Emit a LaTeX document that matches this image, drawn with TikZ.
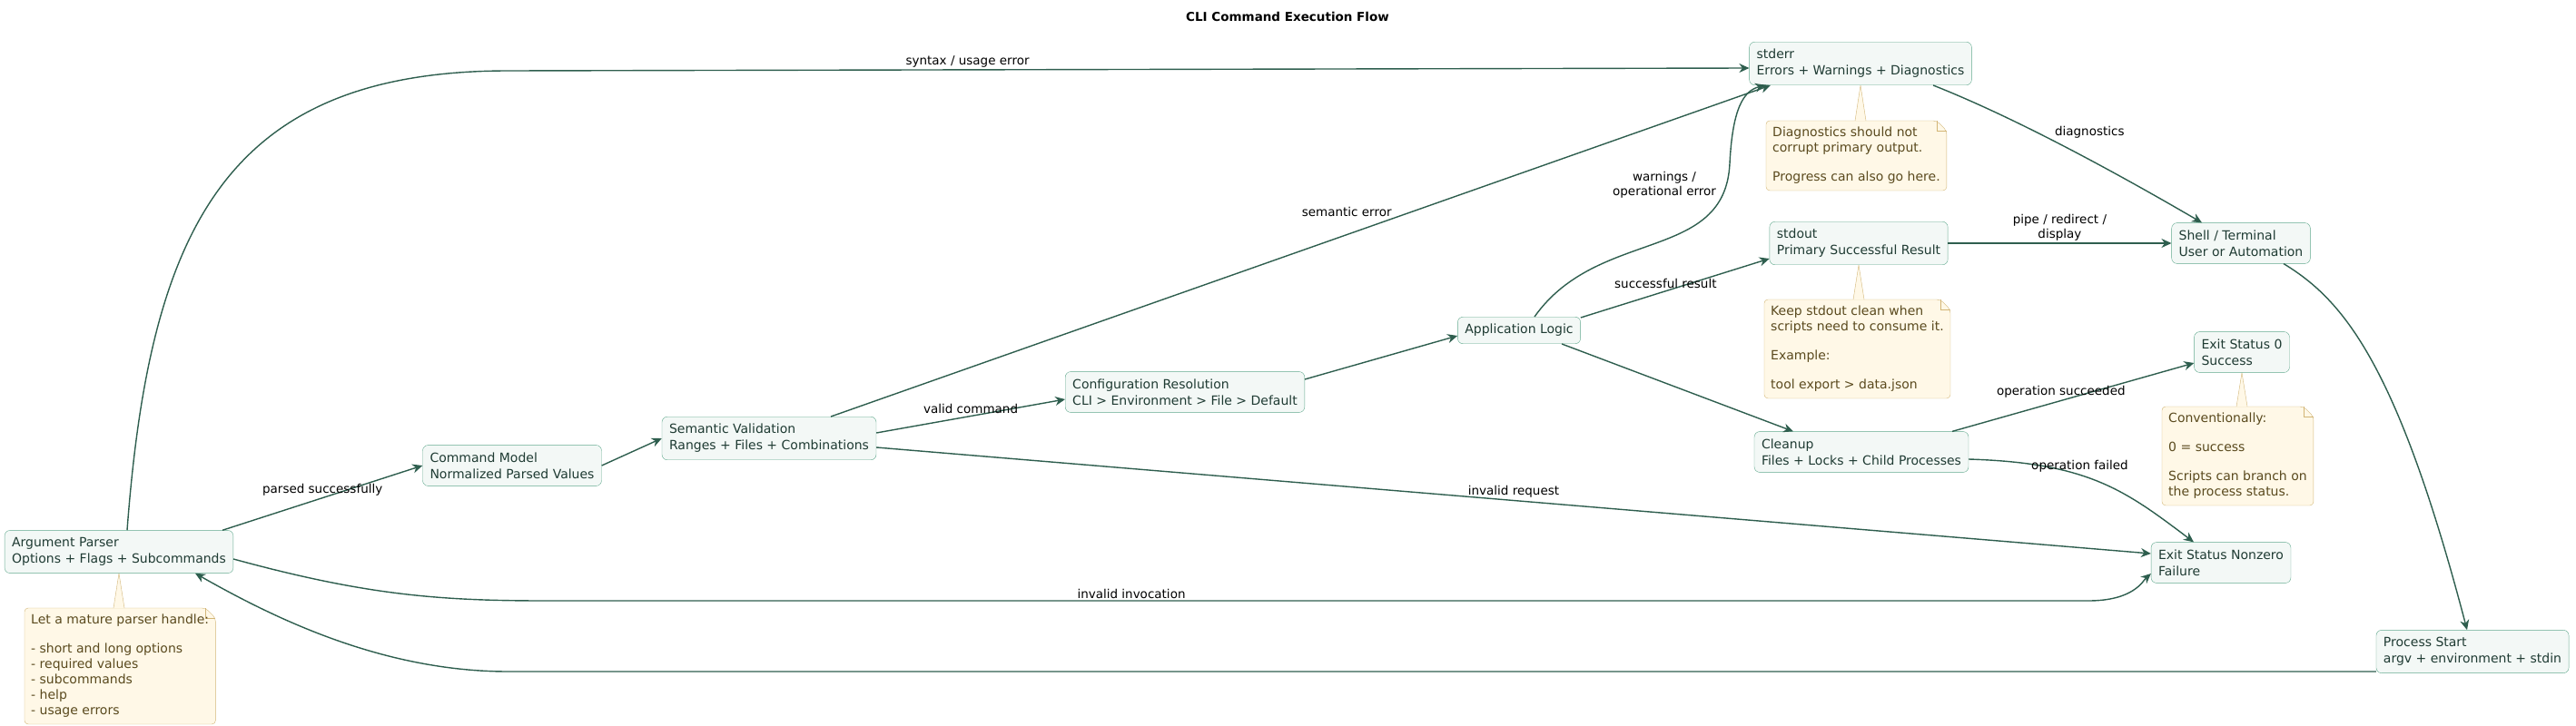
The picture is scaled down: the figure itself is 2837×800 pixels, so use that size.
\documentclass[tikz,border=0pt]{standalone}
\usepackage{fontspec}
\setmainfont{DejaVu Sans}
\usetikzlibrary{arrows.meta, backgrounds}

\definecolor{boxfill}{HTML}{F3F8F6}
\definecolor{boxline}{HTML}{5FA88C}
\definecolor{boxtext}{HTML}{1F3B33}
\definecolor{flowline}{HTML}{2E5E4E}
\definecolor{notefill}{HTML}{FFF8E7}
\definecolor{noteline}{HTML}{D2B576}
\definecolor{notetext}{HTML}{5A4A1E}

\newcommand\dognote[2]{%
    \begin{pgfonlayer}{background}
        \draw[noteline, fill=notefill, rounded corners=4pt] (#1.north west) -- ([xshift=-11pt]#1.north east)
            -- ([yshift=-11pt]#1.north east) -- (#1.south east) -- (#1.south west) -- cycle;
        \draw[noteline] ([xshift=-11pt]#1.north east) |- ([yshift=-11pt]#1.north east);
        \fill[notefill] (#2.south) -- ([xshift=-6pt]#2.south |- #1.north) -- ([xshift=6pt]#2.south |- #1.north) -- cycle;
        \draw[noteline] ([xshift=-6pt]#2.south |- #1.north) -- (#2.south) -- ([xshift=6pt]#2.south |- #1.north);
    \end{pgfonlayer}}

\begin{document}
\begin{tikzpicture}[
        x=1pt, y=-1pt,
        box/.style={draw=boxline, fill=boxfill, text=boxtext, rectangle, rounded corners=6pt,
            align=left, inner sep=8pt, font=\fontsize{14}{18}\selectfont},
        note/.style={text=notetext, align=left, inner sep=7pt, anchor=north west,
            font=\fontsize{14}{17}\selectfont},
        flow/.style={draw=flowline, line width=1.4pt, -{Stealth[length=11pt, width=10pt, inset=3.5pt]}},
        lbl/.style={font=\fontsize{13.5}{16}\selectfont, align=center, inner sep=2pt},
    ]
        \useasboundingbox (0,0) rectangle (2837,800);
        \node[font=\bfseries\fontsize{13.5}{16}\selectfont] (title) at (1418,18) {CLI Command Execution Flow};

        % nodes
        \node[box] (parser) at (131,608) {Argument Parser\\Options + Flags + Subcommands};
        \node[box] (model) at (564,513) {Command Model\\Normalized Parsed Values};
        \node[box] (semantic) at (847,483) {Semantic Validation\\Ranges + Files + Combinations};
        \node[box] (config) at (1305,432) {Configuration Resolution\\CLI > Environment > File > Default};
        \node[box] (app) at (1673,364) {Application Logic};
        \node[box] (stderr) at (2049,70) {stderr\\Errors + Warnings + Diagnostics};
        \node[box] (stdout) at (2047,268) {stdout\\Primary Successful Result};
        \node[box] (shell) at (2468,268) {Shell / Terminal\\User or Automation};
        \node[box] (exitok) at (2469,388) {Exit Status 0\\Success};
        \node[box] (cleanup) at (2050,498) {Cleanup\\Files + Locks + Child Processes};
        \node[box] (exitfail) at (2446,620) {Exit Status Nonzero\\Failure};
        \node[box] (start) at (2723,718) {Process Start\\argv + environment + stdin};

        % notes
        \node[note] (parsernote) at (27,670) {Let a mature parser handle:\\[15pt]- short and long options\\- required values\\- subcommands\\- help\\- usage errors};
        \node[note] (stderrnote) at (1945,133) {Diagnostics should not\\corrupt primary output.\\[15pt]Progress can also go here.};
        \node[note] (stdoutnote) at (1943,330) {Keep stdout clean when\\scripts need to consume it.\\[15pt]Example:\\[15pt]tool export > data.json};
        \node[note] (exitoknote) at (2381,448) {Conventionally:\\[15pt]0 = success\\[15pt]Scripts can branch on\\the process status.};
        \dognote{parsernote}{parser}
        \dognote{stderrnote}{stderr}
        \dognote{stdoutnote}{stdout}
        \dognote{exitoknote}{exitok}

        % connectors
        \draw[flow] ([xshift=9pt]parser.north) .. controls (165,250) and (250,78) .. (560,78)
            -- node[lbl, above, pos=0.37] {syntax / usage error} ([yshift=-5pt]stderr.west);
        \draw[flow] ([xshift=-12pt]parser.north east) -- node[lbl, above] {parsed successfully} (model.west);
        \draw[flow] ([yshift=-8pt]parser.east) .. controls (400,655) and (480,662) .. (600,662)
            -- node[lbl, above, pos=0.38] {invalid invocation} (2300,662) .. controls (2350,662) and (2360,640) .. ([yshift=-12pt]exitfail.west);
        \draw[flow] ([yshift=-22pt]start.west) -- (560,740) .. controls (420,740) and (300,680) .. ([xshift=84pt]parser.south);
        \draw[flow] (model.east) -- (semantic.west);
        \draw[flow] ([xshift=68pt]semantic.north) -- node[lbl, pos=0.58, above left, xshift=20pt, yshift=6pt] {semantic error} ([xshift=-99pt]stderr.south);
        \draw[flow] ([yshift=6pt]semantic.east) -- node[lbl, above] {valid command} ([yshift=-8pt]config.west);
        \draw[flow] ([yshift=-10pt]semantic.east) -- node[lbl, above] {invalid request} ([yshift=10pt]exitfail.west);
        \draw[flow] ([yshift=14pt]config.east) -- ([yshift=-6pt]app.west);
        \draw[flow] ([xshift=17pt]app.north) .. controls (1760,250) and (1900,290) .. (1905,180)
            .. controls (1908,120) and (1920,100) .. ([xshift=-105pt]stderr.south);
        \node[lbl] at (1833,204) {warnings /\\operational error};
        \draw[flow] ([yshift=14pt]app.east) -- node[lbl, above, pos=0.45] {successful result} ([yshift=-17pt]stdout.west);
        \draw[flow] ([xshift=47pt]app.south) -- ([xshift=-75pt]cleanup.north);
        \draw[flow] (stdout.east) -- node[lbl, above] {pipe / redirect /\\display} (shell.west);
        \draw[flow] ([xshift=80pt]stderr.south) .. controls (2220,130) and (2330,190) .. node[lbl, above right, pos=0.45] {diagnostics} ([xshift=-43pt]shell.north);
        \draw[flow] ([xshift=47pt]shell.south) .. controls (2580,330) and (2640,400) .. ([xshift=-6pt]start.north);
        \draw[flow] ([xshift=100pt]cleanup.north) -- node[lbl, above, pos=0.45] {operation succeeded} ([yshift=-12pt]exitok.west);
        \draw[flow] ([yshift=-8pt]cleanup.east) .. controls (2300,510) and (2340,540) .. node[lbl, above, pos=0.4] {operation failed} ([xshift=-30pt]exitfail.north);
    \end{tikzpicture}
\end{document}
